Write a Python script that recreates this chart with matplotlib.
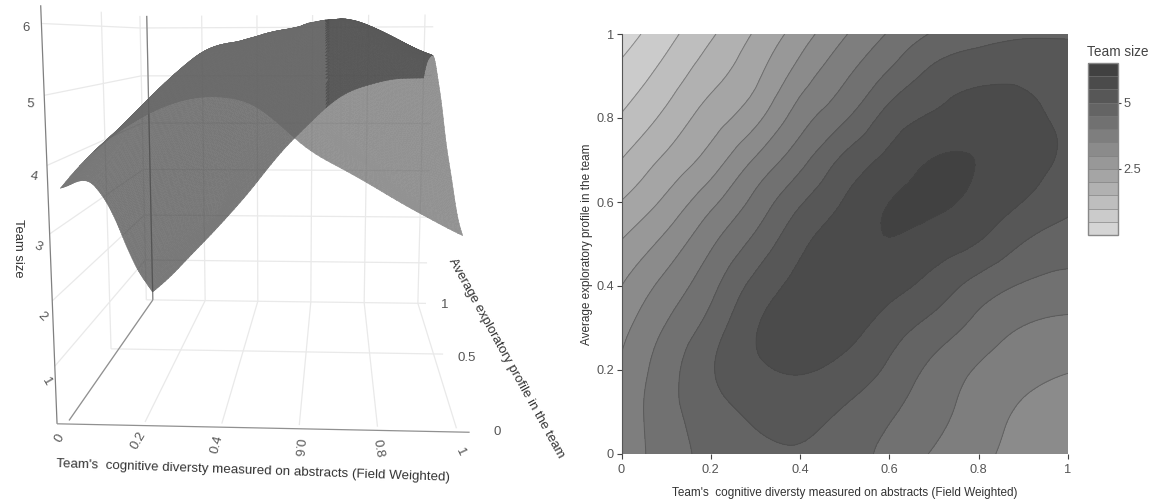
import matplotlib
matplotlib.use("Agg")
import matplotlib.pyplot as plt
import matplotlib.tri as mtri
import numpy as np
from matplotlib.collections import PolyCollection
from matplotlib.colors import LinearSegmentedColormap

plt.rcParams["font.family"] = ["Liberation Sans", "DejaVu Sans"]

W, H = 1157, 500

DIVERSITY = [0.0, 0.1, 0.2, 0.3, 0.4, 0.5, 0.6, 0.7, 0.8, 0.9, 1.0]
EXPLORATORY = [0.0, 0.1, 0.2, 0.3, 0.4, 0.5, 0.6, 0.7, 0.8, 0.9, 1.0]
# team size, one row per exploratory value
TEAM_SIZE = [
    [3.65, 4.25, 4.65, 4.90, 4.97, 4.80, 4.32, 3.96, 3.63, 3.30, 3.00],
    [3.62, 4.32, 4.78, 5.10, 5.17, 4.95, 4.58, 4.16, 3.78, 3.42, 3.18],
    [3.56, 4.28, 4.95, 5.40, 5.54, 5.34, 4.90, 4.36, 3.95, 3.68, 3.53],
    [3.35, 4.04, 4.72, 5.47, 5.72, 5.68, 5.25, 4.80, 4.32, 3.98, 3.88],
    [3.00, 3.67, 4.35, 5.17, 5.65, 5.87, 5.68, 5.30, 4.80, 4.45, 4.30],
    [2.55, 3.17, 3.93, 4.66, 5.39, 5.83, 5.97, 5.76, 5.47, 4.98, 4.76],
    [2.02, 2.61, 3.36, 4.15, 4.94, 5.54, 6.00, 6.09, 5.86, 5.49, 5.13],
    [1.51, 2.10, 2.72, 3.56, 4.33, 5.12, 5.64, 6.02, 5.98, 5.70, 5.42],
    [1.05, 1.63, 2.25, 2.86, 3.77, 4.44, 5.20, 5.58, 5.78, 5.62, 5.42],
    [0.66, 1.21, 1.82, 2.40, 3.24, 3.93, 4.60, 5.15, 5.38, 5.42, 5.28],
    [0.28, 0.82, 1.43, 2.06, 2.75, 3.46, 4.05, 4.55, 4.80, 4.93, 4.95],
]
LEVELS = [0.28, 0.5, 1, 1.5, 2, 2.5, 3, 3.5, 4, 4.5, 5, 5.5, 6, 6.25]

X_LABEL = "Team's  cognitive diversty measured on abstracts (Field Weighted)"
Y_LABEL = "Average exploratory profile in the team"
Z_LABEL = "Team size"

# scene corners (data) and where they land in the picture (pixels)
SCENE_POINTS = [
    (0, 0, 0.1), (1, 0, 0.1), (0, 1, 0.1), (1, 1, 0.1),
    (0, 1, 6), (1, 1, 6), (0, 0, 3.65), (1, 0, 3.0), (1, 1, 4.95), (0, 0, 6),
]
SCENE_PIXELS = [
    (70, 423), (455, 431), (153, 299), (417, 303),
    (146, 27), (425, 27), (63, 185), (463, 230), (425, 80), (52, 27),
]


def fit_camera() -> np.ndarray:
    rows, rhs = [], []
    for (x, y, z), (u, v) in zip(SCENE_POINTS, SCENE_PIXELS):
        rows.append([x, y, z, 1, 0, 0, 0, 0, -u * x, -u * y, -u * z])
        rows.append([0, 0, 0, 0, x, y, z, 1, -v * x, -v * y, -v * z])
        rhs += [u, v]
    p = np.linalg.lstsq(np.array(rows, float), np.array(rhs, float), rcond=None)[0]
    return np.append(p, 1.0).reshape(3, 4)


CAM = fit_camera()


def project(x, y, z):
    pts = np.stack([np.asarray(x, float), np.asarray(y, float), np.asarray(z, float),
                    np.ones_like(np.asarray(x, float))])
    q = CAM @ pts
    return q[0] / q[2], q[1] / q[2]


def line3d(ax, a, b, color, lw, zorder=1):
    u, v = project(np.array([a[0], b[0]]), np.array([a[1], b[1]]), np.array([a[2], b[2]]))
    ax.plot(u, v, color=color, linewidth=lw, zorder=zorder, solid_capstyle="butt")


def group_alpha(alpha):
    def apply(img, dpi):
        img = img.copy()
        img[..., 3] *= alpha
        return img, 0, 0
    return apply


def draw_scene(ax, tri_fine, z_fine):
    floor, top = 0.1, 6.25
    xa, xb, ya = -0.025, 1.03, -0.02
    grid = "#e9e9e9"

    for x in np.arange(0, 1.01, 0.2):
        line3d(ax, (x, 0, floor), (x, 1, floor), grid, 0.9)
        line3d(ax, (x, 1, floor), (x, 1, top), grid, 0.9)
    for y in (0.5, 1):
        line3d(ax, (xa, y, floor), (xb, y, floor), grid, 0.9)
        line3d(ax, (xa, y, floor), (xa, y, top), grid, 0.9)
    for z in range(1, 7):
        line3d(ax, (xa, ya, z), (xa, 1, z), grid, 0.9)
        line3d(ax, (xa, 1, z), (xb, 1, z), grid, 0.9)

    line3d(ax, (xa, ya, floor), (xa, ya, top), "#808080", 0.9)
    line3d(ax, (xa, ya, floor), (xb, ya, floor), "#909090", 0.9)
    line3d(ax, (0, 0, floor), (0, 1, floor), "#909090", 0.9)
    line3d(ax, (0, 1, floor), (0, 1, top), "#808080", 0.9)

    u, v = project(tri_fine.x, tri_fine.y, z_fine)
    tris = tri_fine.triangles
    pts = np.stack([u[tris], v[tris]], axis=-1)
    ex, ey = tri_fine.x[tris], tri_fine.y[tris]
    data_area = (ex[:, 1] - ex[:, 0]) * (ey[:, 2] - ey[:, 0]) - (ex[:, 2] - ex[:, 0]) * (ey[:, 1] - ey[:, 0])
    img_area = -((pts[:, 1, 0] - pts[:, 0, 0]) * (pts[:, 2, 1] - pts[:, 0, 1])
                 - (pts[:, 2, 0] - pts[:, 0, 0]) * (pts[:, 1, 1] - pts[:, 0, 1]))
    front = data_area * img_area > 0
    right = pts[:, :, 0].mean(axis=1) > 327

    sheets = [
        (~front & ~right, "#424242", 2),
        (front, "#666666", 3),
        (~front & right, "#424242", 4),
    ]
    for mask, color, zo in sheets:
        coll = PolyCollection(pts[mask], facecolors=color, edgecolors=color, linewidths=0.4, zorder=zo)
        coll.set_agg_filter(group_alpha(0.85))
        ax.add_collection(coll)

    tick_gray = "#555555"
    z_ticks = [(26, 28, 0), (30, 104, -3), (34, 177, -10), (38, 247, -25), (42, 316, -45), (46, 382, -60)]
    for label, (tu, tv, rot) in zip(["6", "5", "4", "3", "2", "1"], z_ticks):
        ax.text(tu, tv, label, color=tick_gray, fontsize=9.5, rotation=rot, ha="center", va="center")
    x_ticks = [(60, 438, 60), (138, 441, 60), (217, 444, 75), (298, 447, -95), (378, 449, -80), (460, 452, -65)]
    for label, (tu, tv, rot) in zip(["0", "0.2", "0.4", "0.6", "0.8", "1"], x_ticks):
        ax.text(tu, tv, label, color=tick_gray, fontsize=9.5, rotation=rot, ha="center", va="center")
    for label, tu, tv in [("0", 497, 432), ("0.5", 467, 358), ("1", 445, 305)]:
        ax.text(tu, tv, label, color=tick_gray, fontsize=9.5, ha="center", va="center")

    ax.text(18, 248, Z_LABEL, color="#333333", fontsize=9.4, rotation=-90, ha="center", va="center")
    ax.text(253, 471, X_LABEL, color="#333333", fontsize=9.65, rotation=-2, ha="center", va="center",
            rotation_mode="anchor")
    ax.text(506, 358, Y_LABEL, color="#333333", fontsize=9.5, rotation=-61, ha="center", va="center",
            rotation_mode="anchor")


def main() -> None:
    fig = plt.figure(figsize=(W / 100, H / 100), dpi=100)

    xx, yy = np.meshgrid(DIVERSITY, EXPLORATORY)
    zz = np.array(TEAM_SIZE)
    tri = mtri.Triangulation(xx.ravel(), yy.ravel())
    smooth = mtri.CubicTriInterpolator(tri, zz.ravel(), kind="min_E")
    tri_fine, z_fine = mtri.UniformTriRefiner(tri).refine_field(zz.ravel(), smooth, subdiv=3)

    ax3 = fig.add_axes([0, 0, 1, 1])
    ax3.set_xlim(0, W)
    ax3.set_ylim(H, 0)
    ax3.axis("off")
    draw_scene(ax3, tri_fine, z_fine)

    cmap = LinearSegmentedColormap.from_list("team", ["#d7d7d7", "#3e3e3e"])
    ax = fig.add_axes([621.5 / W, 1 - 454 / H, 446.5 / W, 420 / H])
    cs = ax.tricontourf(tri_fine, z_fine, levels=LEVELS, cmap=cmap, vmin=0.28, vmax=6.25)
    ax.tricontour(tri_fine, z_fine, levels=LEVELS[1:-1], colors="#444444", linewidths=0.7, alpha=0.5)
    ax.set_xlim(0, 1)
    ax.set_ylim(0, 1)
    ax.set_xticks([0, 0.2, 0.4, 0.6, 0.8, 1], ["0", "0.2", "0.4", "0.6", "0.8", "1"])
    ax.set_yticks([0, 0.2, 0.4, 0.6, 0.8, 1], ["0", "0.2", "0.4", "0.6", "0.8", "1"])
    ax.tick_params(length=3.5, width=0.8, color="#444444", labelcolor="#555555", labelsize=9.2, pad=2)
    ax.tick_params(axis="x", pad=3.5)
    for side in ("top", "right", "bottom"):
        ax.spines[side].set_visible(False)
    ax.spines["left"].set_color("#555555")
    ax.set_xlabel(X_LABEL, fontsize=8.5, color="#333333", labelpad=8)
    ax.set_ylabel(Y_LABEL, fontsize=8.5, color="#333333", labelpad=2)

    cax = fig.add_axes([1088 / W, 1 - 235 / H, 30 / W, 172 / H])
    cbar = fig.colorbar(cs, cax=cax, drawedges=True)
    cbar.set_ticks([2.5, 5], labels=["2.5", "5"])
    cbar.ax.tick_params(length=2.5, width=0.8, color="#444444", labelcolor="#555555", labelsize=9.2, pad=1.5)
    cbar.outline.set_edgecolor("#888888")
    cbar.outline.set_linewidth(1)
    cbar.dividers.set_color("#777777")
    cbar.dividers.set_linewidth(0.6)
    cbar.dividers.set_alpha(0.7)
    fig.text(1087 / W, 1 - 52 / H, Z_LABEL, fontsize=9.8, color="#444444", ha="left", va="center")

    fig.savefig("out.png", dpi=100)
    plt.close(fig)


if __name__ == "__main__":
    main()
